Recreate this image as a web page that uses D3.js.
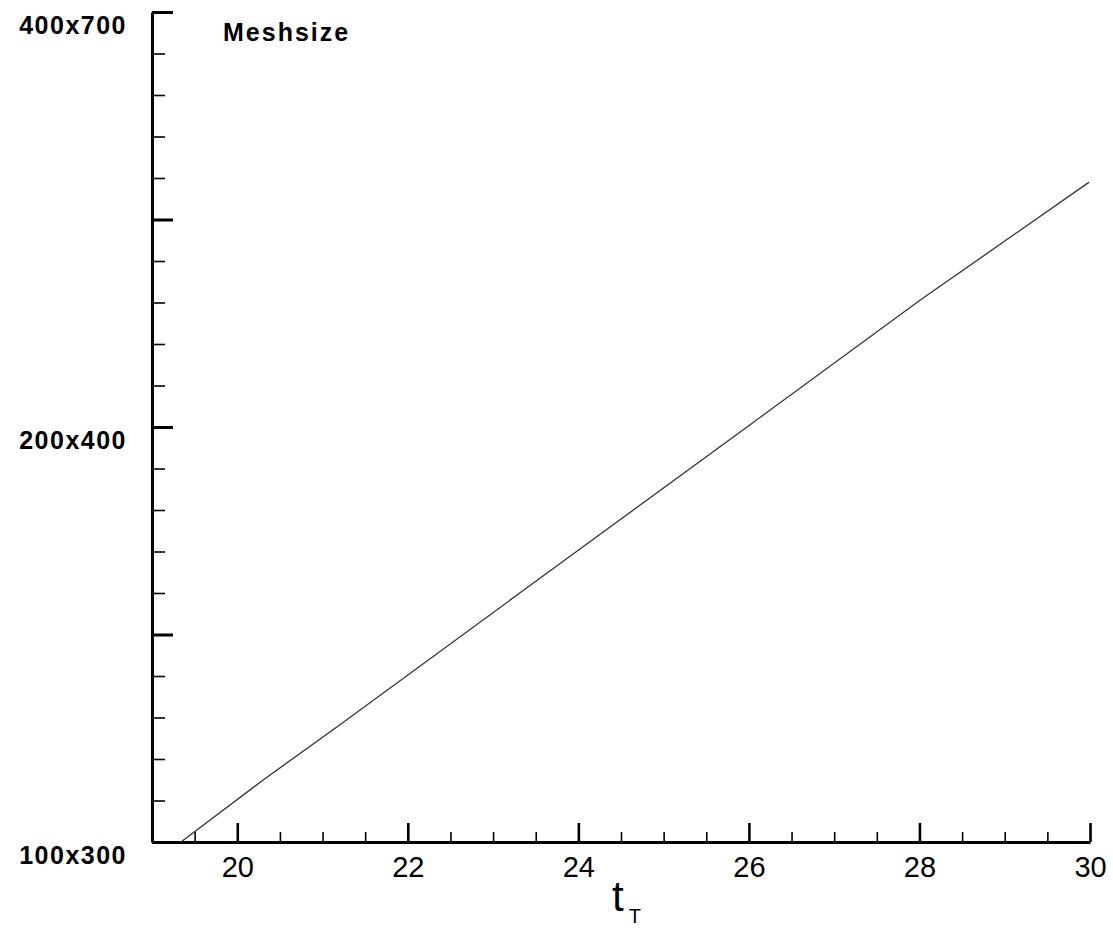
<!DOCTYPE html>
<html>
<head>
<meta charset="utf-8">
<script src="https://cdn.jsdelivr.net/npm/d3@7/dist/d3.min.js"></script>
<style>
  html, body { margin: 0; padding: 0; background: #fff; }
  svg { display: block; }
  text { font-family: "Liberation Sans", Arial, sans-serif; fill: #000; }
</style>
</head>
<body>
<script>
// Curve: temperature t_T against mesh refinement level (0 = 100x300 ... 20 = 400x700)
const tT        = [19.34, 20.30, 21.20, 23.30, 26.01, 28.01, 29.99];
const meshLevel = [0.0,   1.49,  2.82,  5.98,  10.05, 13.06, 15.90];

// Axis ticks
const xMajorTicks = [20, 22, 24, 26, 28, 30];
const xMinorTicks = [19.5, 20.5, 21, 21.5, 22.5, 23, 23.5, 24.5, 25, 25.5,
                     26.5, 27, 27.5, 28.5, 29, 29.5];
const yLabelLevels = [0, 10, 20];
const yLabels      = ["100x300", "200x400", "400x700"];
const yMajorLevels = [0, 5, 10, 15, 20];
const yMinorLevels = [1, 2, 3, 4, 6, 7, 8, 9, 11, 12, 13, 14, 16, 17, 18, 19];

const W = 1113, H = 929;
const x = d3.scaleLinear().domain([19, 30]).range([152, 1090]);
const y = d3.scaleLinear().domain([0, 20]).range([842, 12]);

const svg = d3.select("body").append("svg")
  .attr("width", W).attr("height", H);

// X axis: minor ticks, then major ticks with labels and the axis line
const gx = svg.append("g").attr("transform", `translate(0,${y(0)})`);
gx.append("g")
  .call(d3.axisBottom(x).tickValues(xMinorTicks).tickSizeInner(-10).tickSizeOuter(0).tickFormat(""))
  .call(g => g.select(".domain").remove())
  .call(g => g.selectAll(".tick line").attr("stroke", "#000").attr("stroke-width", 1.6));
gx.append("g")
  .call(d3.axisBottom(x).tickValues(xMajorTicks).tickSizeInner(-19).tickSizeOuter(0).tickFormat(d3.format("d")))
  .call(g => g.select(".domain").attr("stroke", "#000").attr("stroke-width", 3))
  .call(g => g.selectAll(".tick line").attr("stroke", "#000").attr("stroke-width", 2.6))
  .call(g => g.selectAll(".tick text")
    .attr("y", 35).attr("dy", null)
    .attr("font-size", 29)
    .attr("font-family", "Liberation Sans, Arial, sans-serif")
    .attr("fill", "#000"));

// Y axis: ticks point into the plot, labels sit just below their tick
const gy = svg.append("g").attr("transform", `translate(${x(19)},0)`);
gy.append("g")
  .call(d3.axisLeft(y).tickValues(yMinorLevels).tickSizeInner(-13).tickSizeOuter(0).tickFormat(""))
  .call(g => g.select(".domain").remove())
  .call(g => g.selectAll(".tick line").attr("stroke", "#000").attr("stroke-width", 1.6));
gy.append("g")
  .call(d3.axisLeft(y).tickValues(yMajorLevels).tickSizeInner(-21).tickSizeOuter(0).tickFormat(""))
  .call(g => g.select(".domain").attr("stroke", "#000").attr("stroke-width", 3))
  .call(g => g.selectAll(".tick line").attr("stroke", "#000").attr("stroke-width", 3));
gy.append("g")
  .selectAll("text")
  .data(yLabelLevels)
  .join("text")
  .attr("x", -25)
  .attr("y", d => y(d) + 22)
  .attr("text-anchor", "end")
  .attr("font-size", 25)
  .attr("font-weight", "bold")
  .attr("letter-spacing", 1.5)
  .text((d, i) => yLabels[i]);

// Axis name on the Y side
svg.append("text")
  .attr("x", 223).attr("y", 41)
  .attr("font-size", 25)
  .attr("font-weight", "bold")
  .attr("letter-spacing", 2)
  .text("Meshsize");

// X axis title t_T
const title = svg.append("text").attr("x", 612).attr("y", 911);
title.append("tspan").attr("font-size", 42).text("t");
title.append("tspan").attr("font-size", 20).attr("dx", 5).attr("dy", 12).text("T");

// The curve
const line = d3.line()
  .x((d, i) => x(tT[i]))
  .y(d => y(d));
svg.append("path")
  .datum(meshLevel)
  .attr("d", line)
  .attr("fill", "none")
  .attr("stroke", "#333")
  .attr("stroke-width", 1.3);
</script>
</body>
</html>
